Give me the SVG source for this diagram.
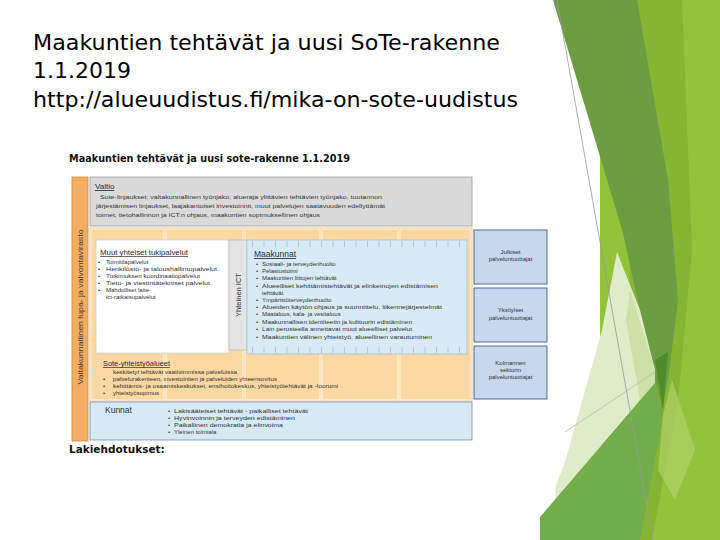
<svg xmlns="http://www.w3.org/2000/svg" width="720" height="540" viewBox="0 0 720 540">
<style>
.title{font-family:"DejaVu Sans","Liberation Sans",sans-serif;font-size:22px;fill:#000}
.dt{font-family:"DejaVu Sans","Liberation Sans",sans-serif;font-weight:bold;font-size:10px;fill:#111}
.t{font-family:"Liberation Sans",Arial,sans-serif;font-size:6px;fill:#333}
.h{font-family:"Liberation Sans",Arial,sans-serif;font-size:7.5px;fill:#2a2a3a;text-decoration:underline}
.vt{font-family:"Liberation Sans",Arial,sans-serif;font-size:6.5px;fill:#4a3a2a}
.rb{font-family:"Liberation Sans",Arial,sans-serif;font-size:6px;fill:#333;text-anchor:middle}
.col{fill:#fcd9a2;stroke:#fff0d8;stroke-width:1.2}
.rbox{fill:#c7d7ee;stroke:#50698e;stroke-width:1}
</style>
<rect width="720" height="540" fill="#fff"/>
<g id="background-shapes">
<rect x="600" y="0" width="120" height="540" fill="#93c23b"/>
<polygon points="637,0 682,0 692,250 678,400 652,540 622,540" fill="#86b433"/>
<polygon points="553,0 637,0 668,180 678,300 668,380 662,410 655,380 623,233" fill="#6c9d42"/>
<polygon points="655,360 668,352 663,410" fill="#4f8a2b"/>
<polygon points="617,252 640,310 655,370 655,383 555,500 556,485 565,462 602,330" fill="#dfebc9"/>
<polygon points="630,290 655,370 655,383 640,400 626,320" fill="#cde0a6"/>
<polygon points="540,517 655,383 663,415 640,540 540,540" fill="#72ad4b"/>
<polygon points="663,415 672,380 695,450 675,500 658,470" fill="#b0d26a" opacity="0.7"/>
<line x1="557" y1="0" x2="653" y2="540" stroke="#9a9a9a" stroke-width="0.8"/>
<line x1="565" y1="432" x2="655" y2="372" stroke="#b8b8b8" stroke-width="0.8"/>
</g>
<g id="slide-title">
<text class="title" x="33" y="50" textLength="467" lengthAdjust="spacingAndGlyphs">Maakuntien tehtävät ja uusi SoTe-rakenne</text>
<text class="title" x="33" y="78">1.1.2019</text>
<text class="title" x="33" y="107" textLength="485" lengthAdjust="spacingAndGlyphs">http://alueuudistus.fi/mika-on-sote-uudistus</text>
</g>
<text class="dt" x="69" y="162" textLength="281" lengthAdjust="spacingAndGlyphs">Maakuntien tehtävät ja uusi sote-rakenne 1.1.2019</text>
<g id="virasto">
<rect x="72" y="177" width="16" height="264" fill="#f2ad60" stroke="#cf8a3d" stroke-width="0.8"/>
<text class="vt" transform="translate(83,307) rotate(-90)" text-anchor="middle" textLength="155" lengthAdjust="spacingAndGlyphs">Valtakunnallinen lupa- ja valvontavirasto</text>
</g>
<g id="valtio">
<rect x="90" y="177" width="382" height="49" fill="#dadada" stroke="#a0a0a0" stroke-width="0.8"/>
<text class="h" x="95" y="189" style="font-size:8px">Valtio</text>
<text class="t" x="100" y="199" textLength="282" lengthAdjust="spacingAndGlyphs">Sote-linjaukset; valtakunnallinen työnjako, alueraja ylittävien tehtävien työnjako, tuotannon</text>
<text class="t" x="96" y="208" textLength="289" lengthAdjust="spacingAndGlyphs">järjestämisen linjaukset, laajakantoiset investoinnit, muut palvelujen saatavuuden edellyttämät</text>
<text class="t" x="96" y="217" textLength="224" lengthAdjust="spacingAndGlyphs">toimet, tietohallinnon ja ICT:n ohjaus, maakuntien sopimuksellinen ohjaus</text>
</g>
<g id="orange-area">
<rect x="90" y="228" width="382" height="173" fill="#fbd59c" stroke="#e8b878" stroke-width="0.8"/>
<rect class="col" x="91" y="229" width="73" height="171"/>
<rect class="col" x="166" y="229" width="77" height="171"/>
<rect class="col" x="245" y="229" width="75" height="171"/>
<rect class="col" x="322" y="229" width="76" height="171"/>
<rect class="col" x="400" y="229" width="71" height="171"/>
</g>
<g id="muut">
<rect x="96" y="240" width="133" height="113" fill="#fff" stroke="#cfcfcf" stroke-width="0.8"/>
<text class="h" x="100" y="255" style="font-size:7px" textLength="88" lengthAdjust="spacingAndGlyphs">Muut yhteiset tukipalvelut</text>
<g class="t">
<text x="98" y="264">•</text><text x="106" y="264">Toimitilapalvelut</text>
<text x="98" y="271">•</text><text x="106" y="271" textLength="111" lengthAdjust="spacingAndGlyphs">Henkilöstö- ja taloushallintopalvelut</text>
<text x="98" y="278">•</text><text x="106" y="278" textLength="94" lengthAdjust="spacingAndGlyphs">Tutkimuksen koordinaatiopalvelut</text>
<text x="98" y="285">•</text><text x="106" y="285" textLength="104" lengthAdjust="spacingAndGlyphs">Tieto- ja viestintätekniset palvelut</text>
<text x="98" y="292">•</text><text x="106" y="292">Mahdolliset laite-</text>
<text x="106" y="299">ict-ratkaisupalvelut</text>
</g>
</g>
<g id="ict">
<rect x="229" y="240" width="18" height="110" fill="#e4e4e4" stroke="#bcbcbc" stroke-width="0.8"/>
<text class="vt" transform="translate(241,295) rotate(-90)" text-anchor="middle" style="font-size:7.5px;fill:#333">Yhteinen ICT</text>
</g>
<g id="maakunnat">
<rect x="247" y="240" width="220" height="114" fill="#d7eaf5" stroke="#a9c2d3" stroke-width="0.8"/>
<line x1="252" y1="244" x2="464" y2="244" stroke="#b8c8d2" stroke-width="6" stroke-dasharray="1 10.5"/>
<line x1="252" y1="350" x2="464" y2="350" stroke="#b8c8d2" stroke-width="6" stroke-dasharray="1 10.5"/>
<text class="h" x="254" y="257" style="font-size:8.5px">Maakunnat</text>
<g class="t">
<text x="256" y="266">•</text><text x="262" y="266">Sosiaali- ja terveydenhuolto</text>
<text x="256" y="273">•</text><text x="262" y="273">Pelastustoimi</text>
<text x="256" y="280">•</text><text x="262" y="280">Maakuntien liittojen tehtävät</text>
<text x="256" y="288">•</text><text x="262" y="288" textLength="176" lengthAdjust="spacingAndGlyphs">Alueelliset kehittämistehtävät ja elinkeinojen edistämisen</text>
<text x="262" y="295">tehtävät</text>
<text x="256" y="302">•</text><text x="262" y="302">Ympäristöterveydenhuolto</text>
<text x="256" y="309">•</text><text x="262" y="309" textLength="180" lengthAdjust="spacingAndGlyphs">Alueiden käytön ohjaus ja suunnittelu, liikennejärjestelmät</text>
<text x="256" y="316">•</text><text x="262" y="316">Maatalous, kala- ja vesitalous</text>
<text x="256" y="324">•</text><text x="262" y="324" textLength="150" lengthAdjust="spacingAndGlyphs">Maakunnallisen identiteetin ja kulttuurin edistäminen</text>
<text x="256" y="331">•</text><text x="262" y="331" textLength="150" lengthAdjust="spacingAndGlyphs">Lain perusteella annettavat muut alueelliset palvelut</text>
<text x="256" y="339">•</text><text x="262" y="339" textLength="170" lengthAdjust="spacingAndGlyphs">Maakuntien välinen yhteistyö, alueellinen varautuminen</text>
</g>
</g>
<g id="sote-yhteistyoalueet">
<text class="h" x="103" y="366" style="font-size:7px" textLength="67" lengthAdjust="spacingAndGlyphs">Sote-yhteistyöalueet</text>
<g class="t">
<text x="113" y="374" textLength="124" lengthAdjust="spacingAndGlyphs">keskitetyt tehtävät vaativimmissa palveluissa</text>
<text x="103" y="381">•</text><text x="113" y="381" textLength="164" lengthAdjust="spacingAndGlyphs">palvelurakenteen, investointien ja palveluiden yhteensovitus</text>
<text x="103" y="388">•</text><text x="113" y="388" textLength="225" lengthAdjust="spacingAndGlyphs">kehittämis- ja osaamiskeskukset, ensihoitokeskus, yhteistyötehtävät ja -foorumi</text>
<text x="103" y="395">•</text><text x="113" y="395">yhteistyösopimus</text>
</g>
</g>
<g id="kunnat">
<rect x="90" y="402" width="382" height="38" fill="#d6e9f5" stroke="#6f90b0" stroke-width="0.8"/>
<text x="105" y="413" style="font-family:'Liberation Sans',Arial,sans-serif;font-size:8.5px;fill:#333344">Kunnat</text>
<g class="t">
<text x="168" y="413">•</text><text x="174" y="413" textLength="134" lengthAdjust="spacingAndGlyphs">Lakisääteiset tehtävät - paikalliset tehtävät</text>
<text x="168" y="420">•</text><text x="174" y="420" textLength="121" lengthAdjust="spacingAndGlyphs">Hyvinvoinnin ja terveyden edistäminen</text>
<text x="168" y="427">•</text><text x="174" y="427" textLength="109" lengthAdjust="spacingAndGlyphs">Paikallinen demokratia ja elinvoima</text>
<text x="168" y="434">•</text><text x="174" y="434">Yleinen toimiala</text>
</g>
</g>
<g id="julkiset">
<rect class="rbox" x="474" y="230" width="73" height="54"/>
<text class="rb" x="510.5" y="254">Julkiset</text>
<text class="rb" x="510.5" y="261">palveluntuottajat</text>
</g>
<g id="yksityiset">
<rect class="rbox" x="474" y="288" width="73" height="54"/>
<text class="rb" x="510.5" y="312">Yksityiset</text>
<text class="rb" x="510.5" y="320">palveluntuottajat</text>
</g>
<g id="kolmannen">
<rect class="rbox" x="474" y="346" width="73" height="53"/>
<text class="rb" x="510.5" y="365">Kolmannen</text>
<text class="rb" x="510.5" y="372">sektorin</text>
<text class="rb" x="510.5" y="379">palveluntuottajat</text>
</g>
<g id="connectors"></g>
<text class="dt" x="69" y="453" style="font-size:10.5px">Lakiehdotukset:</text>
</svg>
